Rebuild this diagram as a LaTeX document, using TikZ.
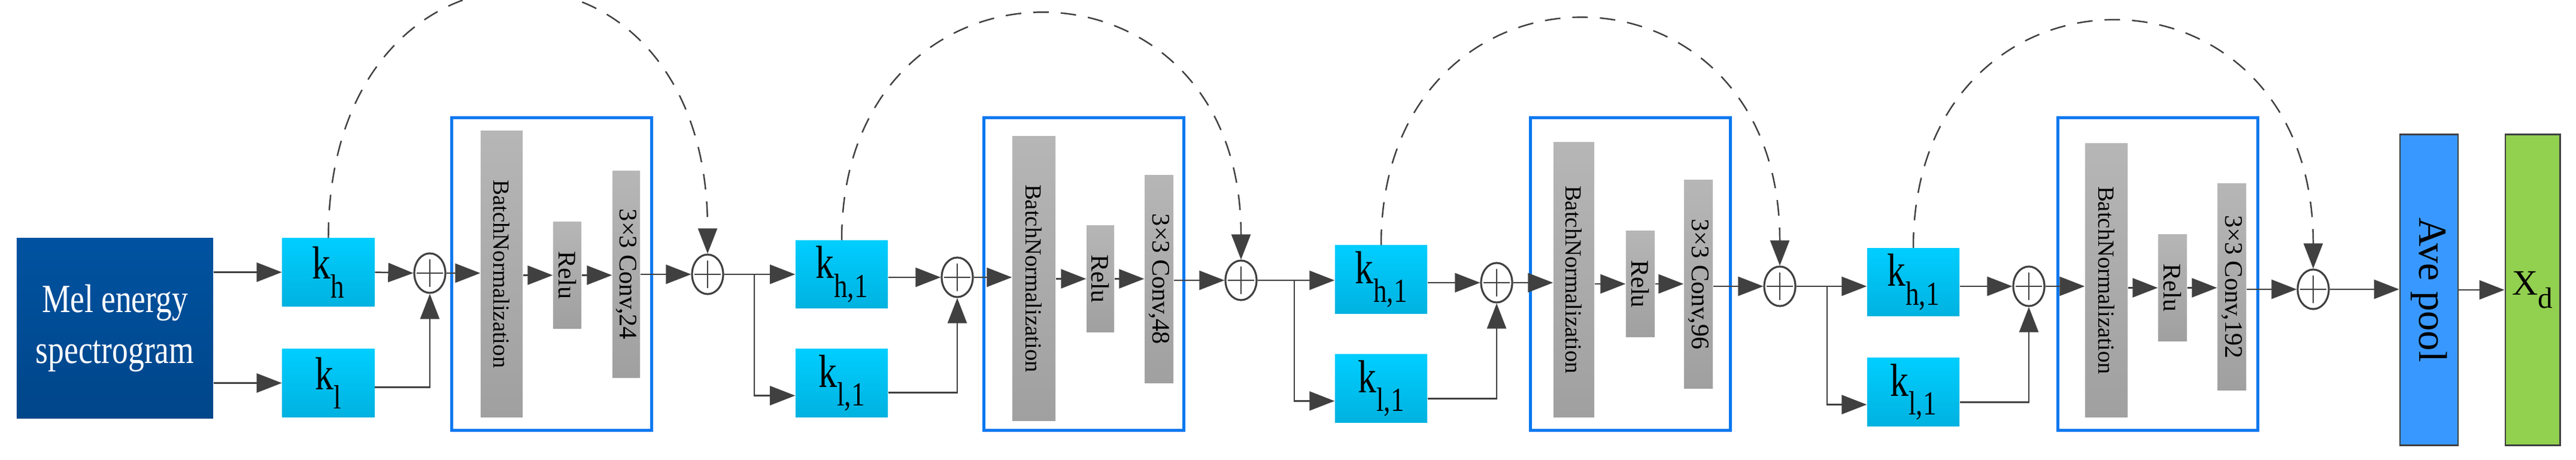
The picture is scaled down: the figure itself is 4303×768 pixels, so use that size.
\documentclass[tikz,border=0pt]{standalone}
\usepackage{fontspec}
\setmainfont{Liberation Serif}
\newfontfamily\condensed{Liberation Serif}[FakeStretch=0.8]
\usetikzlibrary{arrows.meta,shapes.geometric}
\definecolor{ln}{HTML}{404040}
\definecolor{bblue}{HTML}{0A78F0}
\begin{document}
\begin{tikzpicture}[x=0.01cm,y=-0.01cm,
  arr/.style={draw=ln,line width=0.7pt,-{Triangle[length=4.2mm,width=3.2mm]}},
  ln/.style={draw=ln,line width=0.7pt},
  dsh/.style={draw=ln,line width=0.7pt,dash pattern=on 2.6mm off 2mm,-{Triangle[length=4.2mm,width=3.2mm]}},
  kbox/.style={rectangle,inner sep=0pt,top color=cyan!80!blue!0!white,top color={rgb,255:red,0;green,206;blue,255},bottom color={rgb,255:red,0;green,178;blue,224},minimum width=15.4mm,minimum height=11.3mm,font=\fontsize{22}{22}\condensed},
  bar/.style={rectangle,inner sep=0pt,top color={rgb,255:red,182;green,182;blue,182},bottom color={rgb,255:red,160;green,160;blue,160}},
  blk/.style={rectangle,draw=bblue,line width=1.4pt,minimum width=33.3mm,minimum height=52.1mm},
  plus/.style={ellipse,draw=ln,line width=0.9pt,minimum width=5.2mm,minimum height=6.6mm,inner sep=0pt,
    path picture={\draw[ln,line width=0.5pt] ([xshift=-2.2mm]path picture bounding box.center) -- ++(4.4mm,0);
                  \draw[ln,line width=0.5pt] ([yshift=-2.3mm]path picture bounding box.center) -- ++(0,4.6mm);}},
  rt/.style={rotate=-90,font=\fontsize{12}{12}\selectfont}
]
\useasboundingbox (0,0) rectangle (4303,768);
\newcommand{\kl}[2]{k\raisebox{-0.9ex}{\fontsize{16}{16}\selectfont #1#2}}
% input
\node[rectangle,top color={rgb,255:red,0;green,82;blue,160},bottom color={rgb,255:red,0;green,70;blue,138},minimum width=32.8mm,minimum height=30mm,align=center,text=white,font=\fontsize{19}{24}\condensed] (mel) at (192,548) {Mel energy\\spectrogram};
% stage 1
\node[kbox] (kh) at (548.5,454.5) {\kl{h}{}};
\node[kbox] (klo) at (548.5,639.5) {\kl{l}{}};
\node[plus] (p1) at (718,456) {};
\node[blk] (B1) at (921.5,457.5) {};
\node[bar,minimum width=7mm,minimum height=47.7mm] (bn1) at (838,457.5) {};
\node[rt,font=\fontsize{11}{11}\selectfont] at (bn1) {BatchNormalization};
\node[bar,minimum width=4.7mm,minimum height=17.7mm] (r1) at (947.5,459.5) {};
\node[rt] at (r1) {Relu};
\node[bar,minimum width=4.6mm,minimum height=34.4mm] (c1) at (1046,458) {};
\node[rt] at (c1) {3×3 Conv,24};
\node[plus] (p2) at (1182,458) {};
% stage 2
\node[kbox] (kh1) at (1406,458) {\kl{h}{,1}};
\node[kbox] (kl1) at (1406,639.5) {\kl{l}{,1}};
\node[plus] (p3) at (1599,463) {};
\node[blk] (B2) at (1810.5,457.5) {};
\node[bar,minimum width=7.2mm,minimum height=47.4mm] (bn2) at (1727,465) {};
\node[rt,font=\fontsize{11}{11}\selectfont] at (bn2) {BatchNormalization};
\node[bar,minimum width=4.6mm,minimum height=17.7mm] (r2) at (1838,465.5) {};
\node[rt] at (r2) {Relu};
\node[bar,minimum width=4.8mm,minimum height=34.6mm] (c2) at (1936,466) {};
\node[rt] at (c2) {3×3 Conv,48};
\node[plus] (p4) at (2073,468) {};
% stage 3
\node[kbox] (kh2) at (2307,466.5) {\kl{h}{,1}};
\node[kbox] (kl2) at (2307,648.5) {\kl{l}{,1}};
\node[plus] (p5) at (2500,472) {};
\node[blk] (B3) at (2723.5,457.5) {};
\node[bar,minimum width=6.8mm,minimum height=45.8mm] (bn3) at (2629,467) {};
\node[rt,font=\fontsize{11}{11}\selectfont] at (bn3) {BatchNormalization};
\node[bar,minimum width=4.8mm,minimum height=17.6mm] (r3) at (2740,474) {};
\node[rt] at (r3) {Relu};
\node[bar,minimum width=4.8mm,minimum height=34.7mm] (c3) at (2837,474.5) {};
\node[rt] at (c3) {3×3 Conv,96};
\node[plus] (p6) at (2973,478) {};
% stage 4
\node[kbox] (kh3) at (3196,471) {\kl{h}{,1}};
\node[kbox] (kl3) at (3196,654.5) {\kl{l}{,1}};
\node[plus] (p7) at (3389,478) {};
\node[blk] (B4) at (3604.5,457.5) {};
\node[bar,minimum width=7.1mm,minimum height=45.6mm] (bn4) at (3518.5,468) {};
\node[rt,font=\fontsize{11}{11}\selectfont] at (bn4) {BatchNormalization};
\node[bar,minimum width=4.8mm,minimum height=17.7mm] (r4) at (3629,480.5) {};
\node[rt] at (r4) {Relu};
\node[bar,minimum width=4.8mm,minimum height=34.4mm] (c4) at (3728,479) {};
\node[rt] at (c4) {3×3 Conv,192};
\node[plus] (p8) at (3864,483) {};
% output
\node[rectangle,draw=ln,line width=0.8pt,fill={rgb,255:red,56;green,152;blue,255},minimum width=9.7mm,minimum height=51.8mm] (ap) at (4057.5,484) {};
\node[rotate=-90,font=\fontsize{19}{19}\selectfont] at (ap) {Ave pool};
\node[rectangle,draw=ln,line width=0.8pt,fill={rgb,255:red,146;green,208;blue,80},minimum width=8.7mm,minimum height=51.8mm,font=\fontsize{17}{17}\selectfont] (xd) at (4230.5,484) {X\raisebox{-0.8ex}{\fontsize{14}{14}\selectfont d}};
% coordinates for branches
\coordinate (br1) at (1260,458);
\coordinate (br2) at (2162,468);
\coordinate (br3) at (3052,478);
% connections stage 1
\draw[arr] (mel.east |- kh) -- (kh.west);
\draw[arr] (mel.east |- klo) -- (klo.west);
\draw[arr] (kh.east) -- (p1.west);
\draw[arr] ([yshift=-0.7mm]klo.east) -| (p1.south);
\draw[arr] (p1.east) -- (bn1.west |- p1.east);
\draw[arr] (bn1.east |- r1) -- (r1.west);
\draw[arr] (r1.east) -- (c1.west |- r1.east);
\draw[arr] (c1.east |- p2) -- (p2.west);
\draw[dsh] (kh.north) .. controls ([yshift=5mm]kh.north |- 0,-102) and ([yshift=5mm]p2.north |- 0,-102) .. (p2.north);
% stage 2
\draw[arr] (p2.east) -- (kh1.west |- p2.east);
\draw[arr] (br1) |- ([yshift=-2.1mm]kl1.west);
\draw[arr] (kh1.east |- p3) -- (p3.west);
\draw[arr] ([yshift=-1.6mm]kl1.east) -| (p3.south);
\draw[arr] (p3.east) -- (bn2.west |- p3.east);
\draw[arr] (bn2.east |- r2) -- (r2.west);
\draw[arr] (r2.east) -- (c2.west |- r2.east);
\draw[arr] (c2.east |- p4) -- (p4.west);
\draw[dsh] (kh1.north) .. controls (kh1.north |- 0,-105) and (p4.north |- 0,-105) .. (p4.north);
% stage 3
\draw[arr] (p4.east) -- (kh2.west |- p4.east);
\draw[arr] (br2) |- ([yshift=-2.1mm]kl2.west);
\draw[arr] (kh2.east |- p5) -- (p5.west);
\draw[arr] ([yshift=-1.7mm]kl2.east) -| (p5.south);
\draw[arr] (p5.east) -- (bn3.west |- p5.east);
\draw[arr] (bn3.east |- r3) -- (r3.west);
\draw[arr] (r3.east) -- (c3.west |- r3.east);
\draw[arr] (c3.east |- p6) -- (p6.west);
\draw[dsh] (kh2.north) .. controls (kh2.north |- 0,-97) and (p6.north |- 0,-97) .. (p6.north);
% stage 4
\draw[arr] (p6.east) -- (kh3.west |- p6.east);
\draw[arr] (br3) |- ([yshift=-2.1mm]kl3.west);
\draw[arr] (kh3.east |- p7) -- (p7.west);
\draw[arr] ([yshift=-1.7mm]kl3.east) -| (p7.south);
\draw[arr] (p7.east) -- (bn4.west |- p7.east);
\draw[arr] (bn4.east |- r4) -- (r4.west);
\draw[arr] (r4.east) -- (c4.west |- r4.east);
\draw[arr] (c4.east |- p8) -- (p8.west);
\draw[dsh] (kh3.north) .. controls (kh3.north |- 0,-93) and (p8.north |- 0,-93) .. (p8.north);
% output
\draw[arr] (p8.east) -- (ap.west |- p8.east);
\draw[arr] (ap.east) -- (xd.west);
\end{tikzpicture}
\end{document}
